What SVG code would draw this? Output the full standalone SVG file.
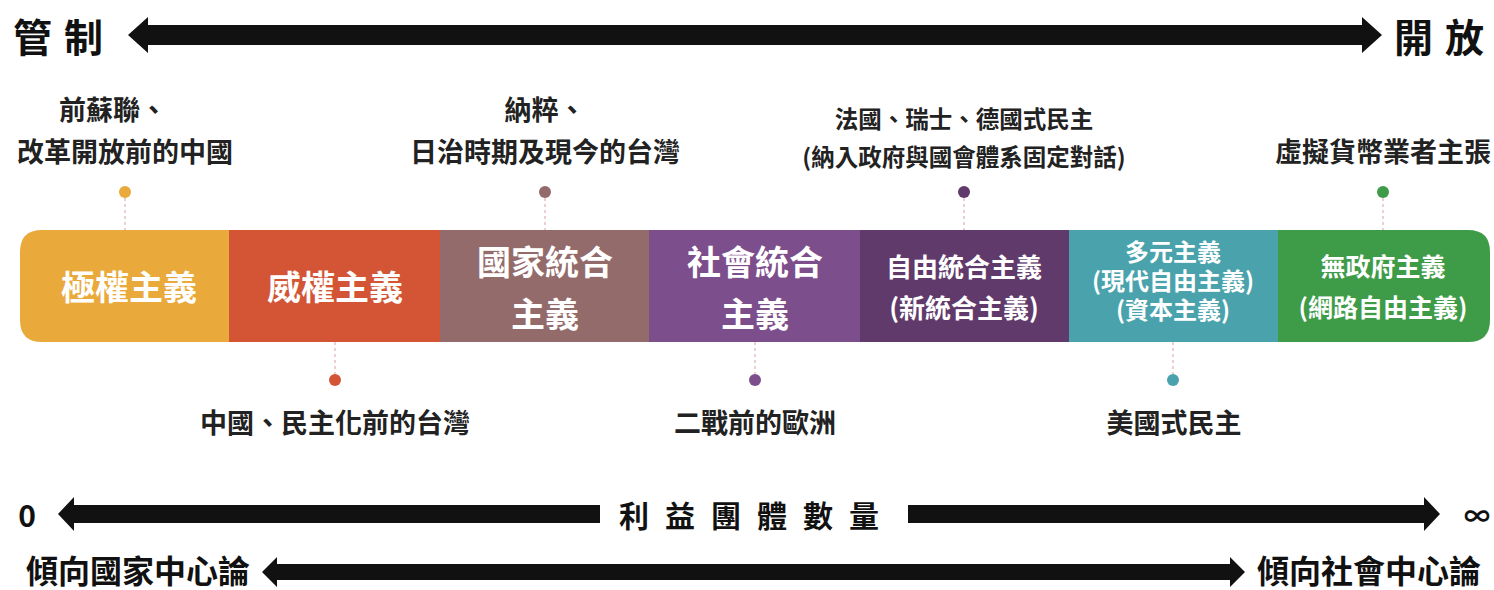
<svg xmlns="http://www.w3.org/2000/svg" width="1494" height="590" viewBox="0 0 1494 590">
<style>
text{font-family:"Noto Sans CJK TC","Noto Sans CJK SC",sans-serif;font-weight:700;dominant-baseline:central;text-anchor:middle}
.axis{font-size:39px;fill:#111}
.lbl{font-size:27px;fill:#222}
.lbl2{font-size:23.5px;fill:#222}
.seg{font-size:34px;fill:#fff}
.seg2{font-size:26px;fill:#fff}
.seg3{font-size:25px;fill:#fff}
.seg4{font-size:24px;fill:#fff}
.end{font-size:33px;fill:#111}
.dash{stroke:#d9a0a0;stroke-width:1;stroke-dasharray:3 3;fill:none}
.arrow{fill:#111}
</style>
<rect width="1494" height="590" fill="#fff"/>

<g id="connectors">
<line class="dash" x1="125" y1="198" x2="125" y2="230"/>
<line class="dash" x1="545" y1="198" x2="545" y2="230"/>
<line class="dash" x1="964" y1="198" x2="964" y2="230"/>
<line class="dash" x1="1383" y1="198" x2="1383" y2="230"/>
<line class="dash" x1="335" y1="342" x2="335" y2="374"/>
<line class="dash" x1="755" y1="342" x2="755" y2="374"/>
<line class="dash" x1="1173" y1="342" x2="1173" y2="374"/>
</g>

<g id="axis-top">
<text class="axis" x="64" y="35" letter-spacing="12">管制</text>
<text class="axis" x="1445" y="35" letter-spacing="12">開放</text>
<path class="arrow" d="M128,35 L148,17 L148,25 L1362,25 L1362,17 L1382,35 L1362,53 L1362,45 L148,45 L148,53 Z"/>
</g>

<g id="bar">
<path d="M229,230 L42,230 Q20,230 20,252 L20,320 Q20,342 42,342 L229,342 Z" fill="#E9A93B"/>
<rect x="229" y="230" width="211" height="112" fill="#D35535"/>
<rect x="440" y="230" width="209" height="112" fill="#946B6B"/>
<rect x="649" y="230" width="211" height="112" fill="#7D4E8C"/>
<rect x="860" y="230" width="209" height="112" fill="#5F3A6B"/>
<rect x="1069" y="230" width="209" height="112" fill="#4AA3AC"/>
<path d="M1278,230 L1468,230 Q1490,230 1490,252 L1490,320 Q1490,342 1468,342 L1278,342 Z" fill="#3E9B47"/>
</g>

<g id="n-totalitarian">
<text class="seg" x="129" y="285">極權主義</text>
<circle cx="125" cy="192" r="6" fill="#E9A93B"/>
<text class="lbl" x="113" y="108">前蘇聯、</text>
<text class="lbl" x="125" y="150">改革開放前的中國</text>
</g>

<g id="n-authoritarian">
<text class="seg" x="335" y="285">威權主義</text>
<circle cx="335" cy="380" r="6" fill="#D35535"/>
<text class="lbl" x="335" y="421">中國、民主化前的台灣</text>
</g>

<g id="n-state-corporatism">
<text class="seg" x="545" y="260">國家統合</text>
<text class="seg" x="545" y="312">主義</text>
<circle cx="545" cy="192" r="6" fill="#946B6B"/>
<text class="lbl" x="545" y="108">納粹、</text>
<text class="lbl" x="545" y="150">日治時期及現今的台灣</text>
</g>

<g id="n-societal-corporatism">
<text class="seg" x="755" y="260">社會統合</text>
<text class="seg" x="755" y="312">主義</text>
<circle cx="755" cy="380" r="6" fill="#7D4E8C"/>
<text class="lbl" x="755" y="421">二戰前的歐洲</text>
</g>

<g id="n-liberal-corporatism">
<text class="seg2" x="964" y="265">自由統合主義</text>
<text class="seg2" x="964" y="306">(新統合主義)</text>
<circle cx="964" cy="192" r="6" fill="#5F3A6B"/>
<text class="lbl2" x="964" y="118">法國、瑞士、德國式民主</text>
<text class="lbl2" x="964" y="156">(納入政府與國會體系固定對話)</text>
</g>

<g id="n-pluralism">
<text class="seg4" x="1173" y="250">多元主義</text>
<text class="seg4" x="1173" y="279">(現代自由主義)</text>
<text class="seg4" x="1173" y="308">(資本主義)</text>
<circle cx="1173" cy="380" r="6" fill="#4AA3AC"/>
<text class="lbl" x="1174" y="421">美國式民主</text>
</g>

<g id="n-anarchism">
<text class="seg3" x="1383" y="265">無政府主義</text>
<text class="seg3" x="1383" y="306">(網路自由主義)</text>
<circle cx="1383" cy="192" r="6" fill="#3E9B47"/>
<text class="lbl" x="1383" y="150">虛擬貨幣業者主張</text>
</g>

<g id="axis-groups">
<text class="end" x="27" y="514" style="font-size:30px">0</text>
<text class="end" x="1477" y="514" style="font-size:26px">∞</text>
<path class="arrow" d="M58,514 L74,497 L74,505 L600,505 L600,523 L74,523 L74,531 Z"/>
<path class="arrow" d="M908,505 L1424,505 L1424,497 L1440,514 L1424,531 L1424,523 L908,523 Z"/>
<text x="757" y="514" style="font-size:30px;fill:#111" letter-spacing="16">利益團體數量</text>
</g>

<g id="axis-center">
<text class="end" x="138" y="569" style="font-size:32px">傾向國家中心論</text>
<text class="end" x="1369" y="569" style="font-size:32px">傾向社會中心論</text>
<path class="arrow" d="M262,572 L277,557 L277,564 L1230,564 L1230,557 L1245,572 L1230,587 L1230,580 L277,580 L277,587 Z"/>
</g>
</svg>
